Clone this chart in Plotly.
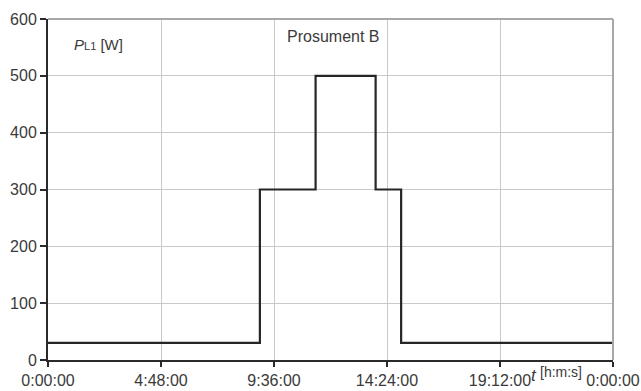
import plotly.graph_objects as go

# Load profile of phase L1 over one day (step changes)
step_times = ["0:00:00", "9:00:00", "11:22:00", "13:55:00", "15:00:00", "24:00:00"]
power_w = [30, 300, 500, 300, 30, 30]

tick_labels = ["0:00:00", "4:48:00", "9:36:00", "14:24:00", "19:12:00", "0:00:00"]
tick_hours = [0, 4.8, 9.6, 14.4, 19.2, 24]
y_ticks = [0, 100, 200, 300, 400, 500, 600]


def to_hours(s):
    h, m, sec = (int(v) for v in s.split(":"))
    return h + m / 60 + sec / 3600


x_hours = [to_hours(t) for t in step_times]

FONT = "Liberation Sans, Arial, sans-serif"
TEXT = "#3a3a3a"
GRID = "#c9c9c9"

fig = go.Figure()
fig.add_trace(go.Scatter(
    x=x_hours, y=power_w, mode="lines", line_shape="hv",
    line=dict(color="#262626", width=2.2), showlegend=False,
    hoverinfo="skip",
))

fig.update_layout(
    width=641, height=391,
    margin=dict(l=48, r=28, t=19, b=31),
    paper_bgcolor="white", plot_bgcolor="white",
    font=dict(family=FONT, size=16, color=TEXT),
    xaxis=dict(
        range=[0, 24], tickmode="array", tickvals=tick_hours, ticktext=tick_labels,
        showgrid=True, gridcolor=GRID, gridwidth=1,
        showline=True, linecolor="#2a2a2a", linewidth=2,
        ticks="outside", ticklen=5, tickwidth=2, tickcolor="#2a2a2a",
        zeroline=False, fixedrange=True, automargin=False,
    ),
    yaxis=dict(
        range=[0, 600], tickmode="array", tickvals=y_ticks,
        showgrid=True, gridcolor=GRID, gridwidth=1,
        showline=True, linecolor="#2a2a2a", linewidth=2,
        ticks="outside", ticklen=6, tickwidth=2, tickcolor="#2a2a2a",
        zeroline=False, fixedrange=True, automargin=False,
    ),
)

# Grey frame on top and right
fig.add_shape(type="line", xref="paper", yref="paper", x0=0, x1=1, y0=1, y1=1,
              line=dict(color="#a8a8a8", width=2))
fig.add_shape(type="line", xref="paper", yref="paper", x0=1, x1=1, y0=0, y1=1,
              line=dict(color="#a8a8a8", width=2))

fig.add_annotation(
    xref="paper", yref="paper", x=0.042, y=0.925, xanchor="left", yanchor="middle",
    text="<i>P</i><span style='font-size:11px'>L1</span> [W]", showarrow=False,
    font=dict(family=FONT, size=15, color=TEXT),
)
fig.add_annotation(
    xref="paper", yref="paper", x=0.504, y=0.95, xanchor="center", yanchor="middle",
    text="Prosument B", showarrow=False,
    font=dict(family=FONT, size=16, color=TEXT),
)
fig.add_annotation(
    xref="paper", yref="paper", x=0.852, y=-0.045, xanchor="left", yanchor="middle",
    text="<i>t</i>", showarrow=False,
    font=dict(family=FONT, size=17, color=TEXT),
)
fig.add_annotation(
    xref="paper", yref="paper", x=0.867, y=-0.035, xanchor="left", yanchor="middle",
    text="[h:m:s]", showarrow=False,
    font=dict(family=FONT, size=14, color=TEXT),
)

fig.write_html("out.html")
